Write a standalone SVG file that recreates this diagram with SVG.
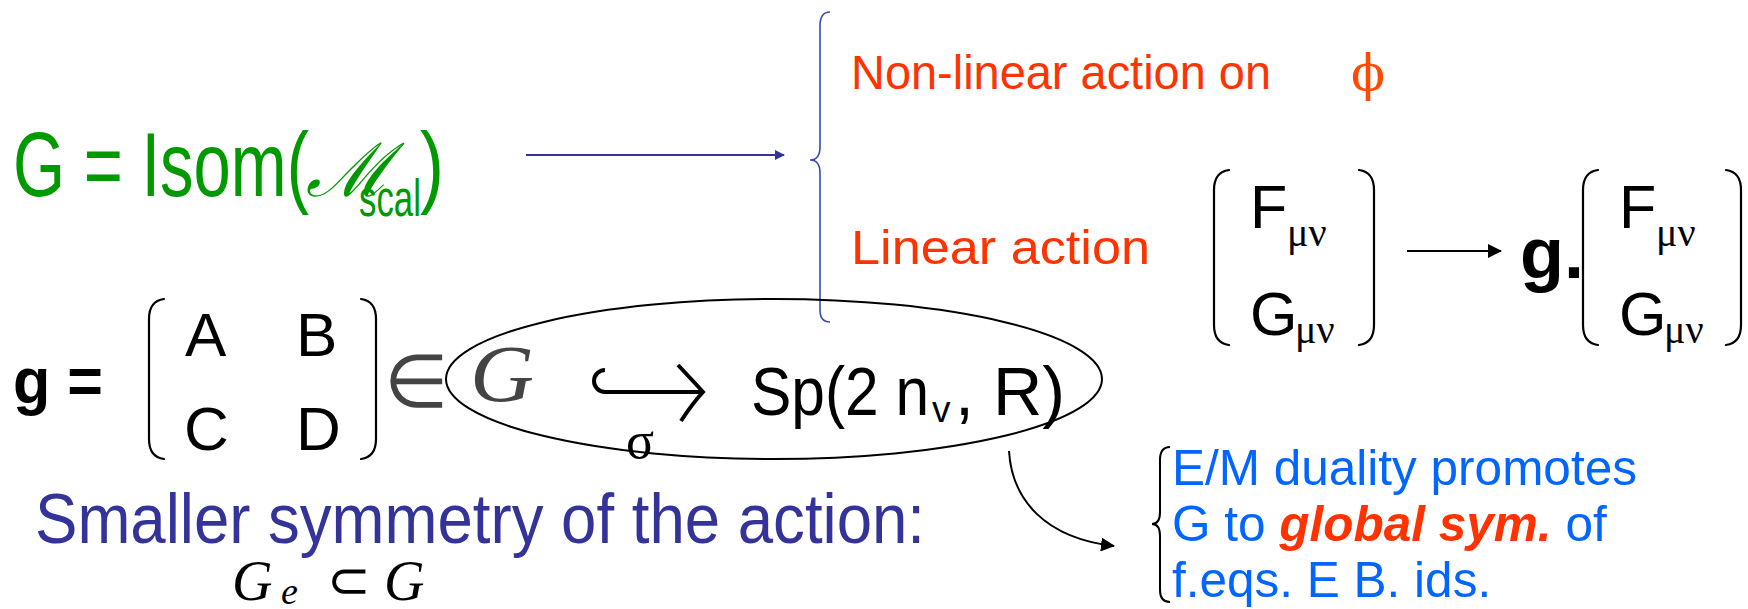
<svg xmlns="http://www.w3.org/2000/svg" width="1748" height="609" viewBox="0 0 1748 609">
<style>
.sans{font-family:"Liberation Sans",Arial,sans-serif}
.serif{font-family:"Liberation Serif","Times New Roman",serif}
.green{fill:#009900}
.red{fill:#ff3300}
.blk{fill:#000}
.paren{fill:none;stroke:#000;stroke-width:2.2;stroke-linecap:round}
.bluebrace{fill:none;stroke:#3b4bb0;stroke-width:1.6}
.blkbrace{fill:none;stroke:#000;stroke-width:2}
.bluetxt{fill:#0066ff;font-size:49.5px}
.sub{font-size:40px}
</style>
<defs>
<marker id="ahBlue" markerWidth="10" markerHeight="10" refX="9" refY="5" orient="auto" markerUnits="userSpaceOnUse">
<path d="M0,0 L10,5 L0,10 z" fill="#333399"/>
</marker>
<marker id="ahBlack" markerWidth="14" markerHeight="14" refX="13" refY="7" orient="auto" markerUnits="userSpaceOnUse">
<path d="M0,0 L14,7 L0,14 z" fill="#000"/>
</marker>
</defs>
<rect width="1748" height="609" fill="#fff"/>

<g id="isom">
<text class="sans green" x="13" y="196" font-size="90" textLength="296" lengthAdjust="spacingAndGlyphs">G = Isom(</text>
<text class="serif green" x="306" y="196" font-size="74" font-style="italic">ℳ</text>
<text class="sans green" x="359" y="216" font-size="52" textLength="62" lengthAdjust="spacingAndGlyphs">scal</text>
<text class="sans green" x="420" y="196" font-size="90" textLength="24" lengthAdjust="spacingAndGlyphs">)</text>
</g>

<g id="brace-top">
<path class="bluebrace" d="M830,12 Q820,12 820,26 L820,147 Q820,160 810,160 Q820,160 820,173 L820,310 Q820,322 830,322"/>
</g>

<g id="nonlinear">
<text class="sans red" x="851" y="89" font-size="49" textLength="420" lengthAdjust="spacingAndGlyphs">Non-linear action on</text>
<text x="1351" y="90" font-size="50" fill="#ff4a00" font-family="'DejaVu Serif',serif">ϕ</text>
</g>

<g id="linear">
<text class="sans red" x="851" y="264" font-size="49" textLength="299" lengthAdjust="spacingAndGlyphs">Linear action</text>
</g>

<g id="fg-vector">
<path class="paren" d="M1229,170 Q1214,172 1214,190 L1214,325 Q1214,343 1229,345"/>
<path class="paren" d="M1359,170 Q1374,172 1374,190 L1374,325 Q1374,343 1359,345"/>
<text class="sans blk" x="1250" y="228" font-size="61">F</text>
<text class="serif blk sub" x="1287" y="246">μν</text>
<text class="sans blk" x="1250" y="335" font-size="61">G</text>
<text class="serif blk sub" x="1295" y="343">μν</text>
</g>

<g id="g-fg-vector">
<text class="sans blk" x="1520" y="278" font-size="72" font-weight="bold">g.</text>
<path class="paren" d="M1598,170 Q1583,172 1583,190 L1583,325 Q1583,343 1598,345"/>
<path class="paren" d="M1726,170 Q1741,172 1741,190 L1741,325 Q1741,343 1726,345"/>
<text class="sans blk" x="1619" y="228" font-size="61">F</text>
<text class="serif blk sub" x="1656" y="246">μν</text>
<text class="sans blk" x="1619" y="335" font-size="61">G</text>
<text class="serif blk sub" x="1664" y="343">μν</text>
</g>

<g id="g-matrix">
<text class="sans blk" x="13" y="403" font-size="64" font-weight="bold" textLength="90" lengthAdjust="spacingAndGlyphs">g =</text>
<path class="paren" d="M164,299 Q149,301 149,319 L149,439 Q149,457 164,459"/>
<path class="paren" d="M361,299 Q376,301 376,319 L376,439 Q376,457 361,459"/>
<text class="sans blk" x="185" y="356" font-size="62">A</text>
<text class="sans blk" x="296" y="356" font-size="62">B</text>
<text class="sans blk" x="184" y="450" font-size="62">C</text>
<text class="sans blk" x="296" y="450" font-size="62">D</text>
<text class="serif" x="384" y="407" font-size="74" fill="#444">∈</text>
</g>

<g id="embedding">
<ellipse cx="774" cy="379" rx="328" ry="80" fill="none" stroke="#000" stroke-width="2"/>
<text class="serif" x="470" y="401" font-size="80" font-style="italic" fill="#444" textLength="64" lengthAdjust="spacingAndGlyphs">G</text>
<path d="M605,370 A11,11 0 0 0 605,392 L702,392" fill="none" stroke="#000" stroke-width="4"/>
<path d="M678,365 Q694,382 703,392 Q692,404 681,421" fill="none" stroke="#000" stroke-width="4"/>
<text class="serif blk" x="626" y="458" font-size="52">σ</text>
<text class="sans blk" x="751" y="415" font-size="69" textLength="178" lengthAdjust="spacingAndGlyphs">Sp(2 n</text>
<text class="sans blk" x="932" y="422" font-size="37">v</text>
<text class="sans blk" x="955" y="415" font-size="69" textLength="110" lengthAdjust="spacingAndGlyphs">, R)</text>
</g>

<g id="smaller">
<text class="sans" x="35" y="543" font-size="70" fill="#333399" textLength="890" lengthAdjust="spacingAndGlyphs">Smaller symmetry of the action:</text>
<text class="serif blk" x="232" y="600" font-size="56" font-style="italic">G</text>
<text class="serif blk" x="281" y="604" font-size="38" font-style="italic">e</text>
<text class="serif blk" x="327" y="598" font-size="52">⊂</text>
<text class="serif blk" x="384" y="600" font-size="56" font-style="italic">G</text>
</g>

<g id="duality-note">
<path class="blkbrace" d="M1170,447 Q1160,447 1160,460 L1160,512 Q1160,524 1152,524 Q1160,524 1160,536 L1160,590 Q1160,602 1170,602"/>
<text class="sans bluetxt" x="1172" y="485">E/M duality promotes</text>
<text class="sans bluetxt" x="1172" y="541">G to <tspan class="red" font-weight="bold" font-style="italic">global sym.</tspan> of</text>
<text class="sans bluetxt" x="1172" y="597">f.eqs. E B. ids.</text>
</g>

<g id="connectors">
<line x1="526" y1="155" x2="784" y2="155" stroke="#333399" stroke-width="2" marker-end="url(#ahBlue)"/>
<line x1="1407" y1="251" x2="1501" y2="251" stroke="#000" stroke-width="2" marker-end="url(#ahBlack)"/>
<path d="M1009,451 C1012,500 1045,538 1114,546" fill="none" stroke="#000" stroke-width="2" marker-end="url(#ahBlack)"/>
</g>
</svg>
